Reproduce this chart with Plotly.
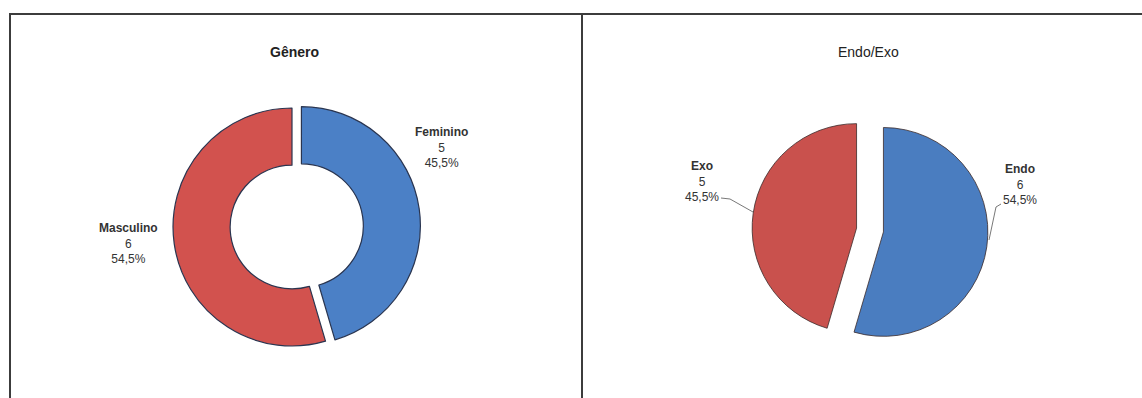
import plotly.graph_objects as go

W, H = 1142, 398

# ---- data ----
genero_labels = ["Feminino", "Masculino"]
genero_values = [5, 6]
endo_labels = ["Endo", "Exo"]
endo_values = [6, 5]
titles = ["Gênero", "Endo/Exo"]

red = "#D2524E"
blue = "#4B80C6"
red2 = "#C9514D"
blue2 = "#4A7DC0"


def px_x(x):
    return x / W


def px_y(y):
    return 1 - y / H


def pct(v, vals):
    return f"{100 * v / sum(vals):.1f}".replace(".", ",") + "%"


def lab(name, v, vals):
    return f"<b>{name}</b><br>{v}<br>{pct(v, vals)}"


fig = go.Figure()

fig.add_trace(go.Pie(
    labels=genero_labels, values=genero_values, sort=False,
    direction="clockwise", rotation=0, hole=0.52,
    pull=[0.08, 0.0],
    marker=dict(colors=[blue, red], line=dict(color="#2a3550", width=1.2)),
    textinfo="none", hoverinfo="label+value+percent",
    domain=dict(x=[px_x(163.5), px_x(420.5)], y=[px_y(355.5), px_y(98.5)]),
    showlegend=False,
))

fig.add_trace(go.Pie(
    labels=endo_labels, values=endo_values, sort=False,
    direction="clockwise", rotation=0,
    pull=[0.13, 0.13],
    marker=dict(colors=[blue2, red2], line=dict(color="#3a2a2a", width=0.8)),
    textinfo="none", hoverinfo="label+value+percent",
    domain=dict(x=[px_x(752), px_x(988)], y=[px_y(348), px_y(112)]),
    showlegend=False,
))

lf = dict(family="Liberation Sans, Arial, sans-serif", size=12, color="#333333")
tf = dict(family="Liberation Sans, Arial, sans-serif", size=14, color="#222")
ann = [
    dict(x=px_x(294), y=px_y(52), text=f"<b>{titles[0]}</b>", font=tf),
    dict(x=px_x(868), y=px_y(52), text=titles[1], font=tf),
    dict(x=px_x(441), y=px_y(147), text=lab(genero_labels[0], genero_values[0], genero_values), font=lf),
    dict(x=px_x(128), y=px_y(243), text=lab(genero_labels[1], genero_values[1], genero_values), font=lf),
    dict(x=px_x(1020), y=px_y(185), text=lab(endo_labels[0], endo_values[0], endo_values), font=lf),
    dict(x=px_x(702), y=px_y(181), text=lab(endo_labels[1], endo_values[1], endo_values), font=lf),
]
for a in ann:
    a.update(xref="paper", yref="paper", showarrow=False, xanchor="center", yanchor="middle")

line_style = dict(color="#3c3c3c", width=2)
shapes = [
    dict(type="line", xref="paper", yref="paper", x0=px_x(9), x1=1, y0=px_y(14), y1=px_y(14), line=line_style),
    dict(type="line", xref="paper", yref="paper", x0=px_x(10), x1=px_x(10), y0=px_y(14), y1=0, line=line_style),
    dict(type="line", xref="paper", yref="paper", x0=px_x(582), x1=px_x(582), y0=px_y(14), y1=0, line=line_style),
    # leader lines
    dict(type="path", xref="paper", yref="paper",
         path=f"M {px_x(721)} {px_y(198)} L {px_x(730)} {px_y(199)} L {px_x(753)} {px_y(212)}",
         line=dict(color="#555", width=0.8)),
    dict(type="path", xref="paper", yref="paper",
         path=f"M {px_x(1001)} {px_y(204)} L {px_x(996)} {px_y(207)} L {px_x(989)} {px_y(240)}",
         line=dict(color="#555", width=0.8)),
]

fig.update_layout(
    width=W, height=H, margin=dict(l=0, r=0, t=0, b=0),
    paper_bgcolor="white", plot_bgcolor="white",
    annotations=ann, shapes=shapes,
)

fig.write_html("out.html")
